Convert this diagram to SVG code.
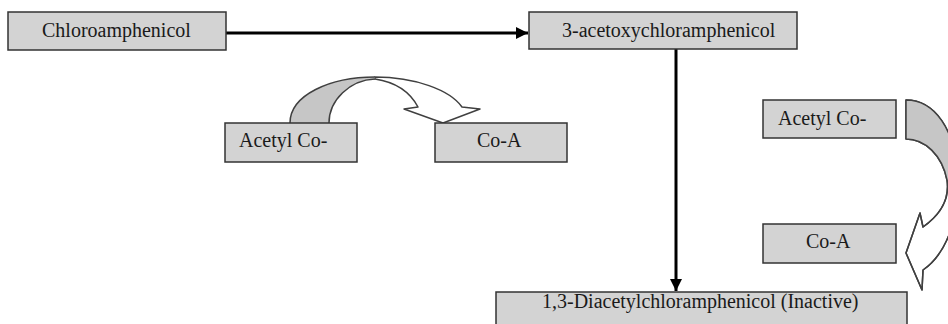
<svg xmlns="http://www.w3.org/2000/svg" width="948" height="324" viewBox="0 0 948 324">
<defs>
<style>
.box{fill:#d3d3d3;stroke:#333;stroke-width:1.5}
.lbl{font-family:"Liberation Serif","Times New Roman",serif;font-size:20px;fill:#1a1a1a}
.conn{stroke:#000;stroke-width:3;fill:none}
.grey{fill:#c6c6c6;stroke:none}
.outline{fill:none;stroke:#404040;stroke-width:1.5;stroke-linejoin:round}
.white{fill:#fff;stroke:#404040;stroke-width:1.5;stroke-linejoin:round}
</style>
<marker id="ah" markerUnits="userSpaceOnUse" markerWidth="13" markerHeight="12" refX="12" refY="6" orient="auto">
<path d="M0,0 L12,6 L0,12 z" fill="#000"/>
</marker>
</defs>
<rect width="948" height="324" fill="#fff"/>
<g id="connectors">
<line class="conn" x1="226" y1="33" x2="528" y2="33" marker-end="url(#ah)"/>
<line class="conn" x1="676" y1="49" x2="676" y2="291" marker-end="url(#ah)"/>
</g>
<g id="curved-arrow-left">
<path class="white" d="M375,77 C415,77 450,90 462,107 L480,109 L443,123 L404,109 L418,107 C410,92 395,82 375,79 Z"/>
<path class="grey" d="M290,123 C290,95 330,77 375,77 L375,79 C350,80 329,100 329,123 Z"/>
<path class="outline" d="M290,123 C290,95 330,77 375,77 M375,79 C350,80 329,100 329,123"/>
</g>
<g id="curved-arrow-right">
<path class="white" d="M906,100 C935,100 955,130 958,175 C960,220 945,255 923,270 L922,290 L906,253 L920,213 L923,227 C940,215 950,200 947,180 C942,155 925,139 906,139 Z"/>
<path class="grey" d="M906,100 C935,100 955,130 958,175 L947,180 C942,155 925,139 906,139 Z"/>
<path class="outline" d="M906,100 C935,100 955,130 958,175 C960,220 945,255 923,270 L922,290 L906,253 L920,213 L923,227 C940,215 950,200 947,180 C942,155 925,139 906,139 Z"/>
</g>
<g id="chloramphenicol">
<rect class="box" x="8" y="12" width="218" height="38"/>
<text class="lbl" x="42" y="37">Chloroamphenicol</text>
</g>
<g id="acetoxychloramphenicol">
<rect class="box" x="529" y="12" width="268" height="37"/>
<text class="lbl" x="562" y="37">3-acetoxychloramphenicol</text>
</g>
<g id="acetylcoa-1">
<rect class="box" x="225" y="123" width="132" height="39"/>
<text class="lbl" x="239" y="147">Acetyl Co-</text>
</g>
<g id="coa-1">
<rect class="box" x="435" y="123" width="132" height="39"/>
<text class="lbl" x="477" y="147">Co-A</text>
</g>
<g id="acetylcoa-2">
<rect class="box" x="763" y="100" width="133" height="38"/>
<text class="lbl" x="778" y="125">Acetyl Co-</text>
</g>
<g id="coa-2">
<rect class="box" x="763" y="224" width="133" height="39"/>
<text class="lbl" x="806" y="248">Co-A</text>
</g>
<g id="diacetylchloramphenicol">
<rect class="box" x="496" y="292" width="411" height="40"/>
<text class="lbl" x="542" y="308">1,3-Diacetylchloramphenicol (Inactive)</text>
</g>
</svg>
